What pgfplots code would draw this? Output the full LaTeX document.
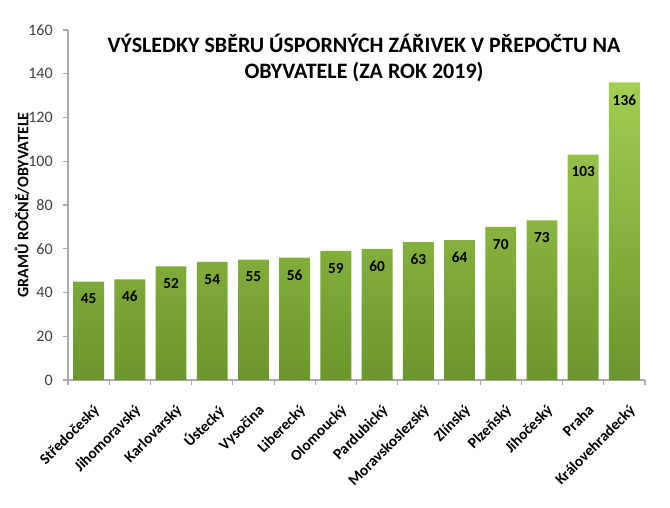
\documentclass[border=0pt]{standalone}
\usepackage{pgfplots}
\pgfplotsset{compat=1.18}
\usepackage{fontspec}
\setmainfont{Carlito}
\definecolor{bartop}{RGB}{162,206,82}
\definecolor{barbot}{RGB}{106,150,44}
\definecolor{axgray}{RGB}{170,170,170}
\begin{document}
\begin{tikzpicture}
\useasboundingbox (0,0) rectangle (502.5pt,380.25pt);
\begin{axis}[
  at={(51pt,95.25pt)}, anchor=south west,
  scale only axis, width=432.75pt, height=262.5pt,
  xmin=-0.5, xmax=13.5, ymin=0, ymax=160,
  axis lines*=left,
  axis line style={draw=axgray, line width=0.8pt},
  tick align=outside,
  ytick={0,20,...,160},
  ytick style={draw=axgray, line width=0.8pt},
  major tick length=4pt,
  minor tick length=4pt,
  xtick={0,...,13},
  major x tick style={draw=none},
  minor xtick={-0.5,0.5,...,13.5},
  minor x tick style={draw=axgray, line width=0.8pt},
  xticklabels={Středočeský,Jihomoravský,Karlovarský,Ústecký,Vysočina,Liberecký,Olomoucký,Pardubický,Moravskoslezský,Zlínský,Plzeňský,Jihočeský,Praha,Královehradecký},
  x tick label style={xshift=3pt, yshift=-12pt, rotate=45, anchor=north east, font=\bfseries\fontsize{11.5}{13}\selectfont, inner sep=1pt},
  y tick label style={xshift=-4pt, font=\fontsize{12}{14}\selectfont, text=black!75},
  /pgf/number format/assume math mode=true,
  ylabel={\bfseries GRAMŮ ROČNĚ/OBYVATELE},
  ylabel style={at={(axis description cs:-0.08,0.5)}, anchor=center, font=\fontsize{12}{14}\selectfont},
  bar width=0.75,
  nodes near coords,
  every node near coord/.append style={anchor=center, yshift=-13pt, font=\bfseries\fontsize{11.5}{13}\selectfont, text=black},
  clip=false,
]
\addplot[ybar, draw=none, top color=bartop, bottom color=barbot] coordinates {
(0,45) (1,46) (2,52) (3,54) (4,55) (5,56) (6,59) (7,60) (8,63) (9,64) (10,70) (11,73) (12,103) (13,136)};
\end{axis}
\node[font=\bfseries\fontsize{16.5}{20}\selectfont, align=center] at (273pt,336.75pt) {VÝSLEDKY SBĚRU ÚSPORNÝCH ZÁŘIVEK V PŘEPOČTU NA\\OBYVATELE (ZA ROK 2019)};
\end{tikzpicture}
\end{document}
